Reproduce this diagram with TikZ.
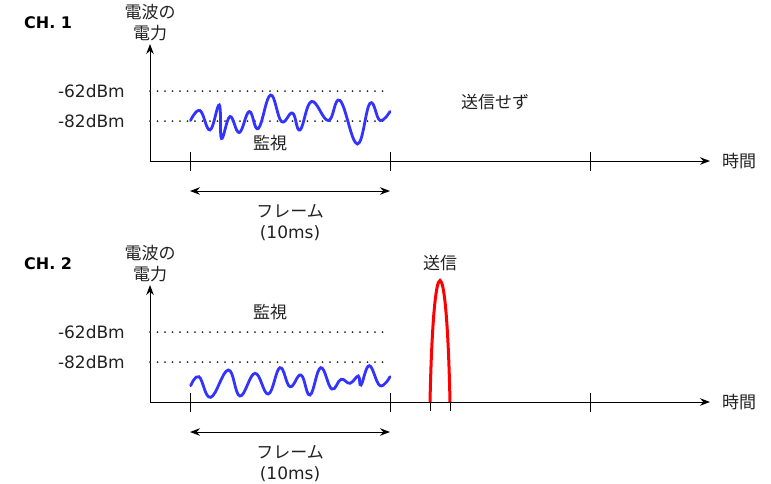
\documentclass[tikz,border=0pt]{standalone}
\usepackage{fontspec}
\setmainfont{DejaVu Sans}
\newfontfamily\jpfont{Noto Sans CJK JP}
\usetikzlibrary{arrows.meta}
\definecolor{wavecol}{HTML}{3333FF}
\definecolor{txtcol}{HTML}{222222}

\begin{document}
\begin{tikzpicture}[x=1pt,y=-1pt,>={Stealth[length=10pt,width=7.5pt]},
	axis/.style={line width=1pt},
	lvl/.style={line width=2pt, dash pattern=on 0pt off 7.5pt, line cap=round, black!85},
	wave/.style={line width=2.8pt, wavecol, line cap=round},
	pulse/.style={line width=3pt, red},
	lbl/.style={font=\fontsize{17}{20}\selectfont, text=txtcol, inner sep=0pt},
	jlbl/.style={font=\jpfont\fontsize{17}{21}\selectfont, text=txtcol, inner sep=0pt, align=center},
	title/.style={font=\bfseries\fontsize{16}{19}\selectfont, inner sep=0pt, anchor=west}]
\useasboundingbox (0,0) rectangle (771,483);

\foreach \c/\o in {1/0,2/241}{
	\coordinate (o\c) at (150,161+\o);
	\coordinate (yt\c) at (150,44+\o);
	\coordinate (xt\c) at (710,161+\o);
	\draw[axis,->] (o\c) -- (yt\c);
	\draw[axis,->] (o\c) -- (xt\c);
	\foreach \t in {190,390,590}
		\draw[axis] (\t,152+\o) -- (\t,171+\o);

	\node[title] (ch\c) at (24,23+\o) {CH. \c};
	\node[jlbl] (yl\c) at (150,23+\o) {電波の\\電力};
	\node[jlbl,anchor=west] (tm\c) at (722,161+\o) {時間};

	% threshold levels
	\node[lbl,anchor=east] (hi\c) at (125,91+\o) {-62dBm};
	\node[lbl,anchor=east] (lo\c) at (125,121+\o) {-82dBm};
	\coordinate (he\c) at (386,91+\o);
	\coordinate (le\c) at (386,121+\o);
	\draw[lvl] (o\c |- he\c) -- (he\c);
	\draw[lvl] (o\c |- le\c) -- (le\c);

	% frame
	\coordinate (fa\c) at (190,191+\o);
	\coordinate (fb\c) at (390,191+\o);
	\draw[axis,<->] (fa\c) -- (fb\c);
	\node[jlbl] (fr\c) at (290,222.5+\o) {フレーム\\\rmfamily (10ms)};
}

\node[jlbl] (mon1) at (270,143) {監視};
\node[jlbl] (mon2) at (270,312) {監視};
\node[jlbl] (nosend) at (495,102) {送信せず};
\node[jlbl] (send) at (440,263) {送信};

% ch1 noise
\draw[wave] plot[smooth,tension=0.7] coordinates {(190.5,120.5) (200,110.5) (210,130) (219.3,105)
	(221.5,138.5) (230,116.5) (239.3,132.5) (249.3,111.5) (258.3,128.5) (270.5,95)
	(281.5,121.5) (292.5,113) (300,130) (311.5,101.5) (328.3,120.5) (340,100.5)
	(357.3,144) (370,103.3) (380,120.5) (390,111.5)};

% ch2 noise
\draw[wave] plot[smooth,tension=0.7] coordinates {(190.7,385.7) (199,376.7) (210.7,397.3) (228.3,370)
	(240,396) (255,373.3) (268.3,394) (280,367.7) (290,386.7) (301,375) (310,395)
	(320.7,367.7) (331.7,389) (341,379.3) (350,383.3) (358.3,376) (361,385)
	(369.3,365.7) (380,385.7) (390,376.7)};

% ch2 transmission
\draw[axis] (430,393) -- (430,411);
\draw[axis] (450,393) -- (450,411);
\draw[pulse] (430,402) .. controls (433.5,240) and (446.5,240) .. (450,402);
\end{tikzpicture}
\end{document}
